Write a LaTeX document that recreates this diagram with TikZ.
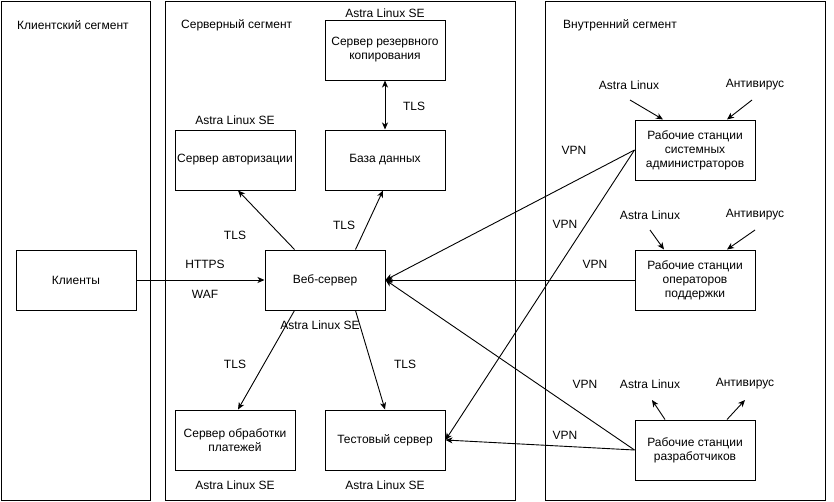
\documentclass[tikz,border=0pt]{standalone}
\usepackage{fontspec}
\setmainfont{Liberation Sans}
\usetikzlibrary{arrows.meta}
\tikzset{
    box/.style = {
        draw,
        shape=rectangle,
        minimum height=60pt,
        minimum width=120pt,
        line width=1pt,
        align=center,
        inner sep=0pt
    },
    segment/.style = {
        draw,
        line width=1pt
    },
    lbl/.style = {
        shape=rectangle,
        inner sep=0pt
    },
    link/.style = {
        draw,
        line width=0.9pt
    },
    >={Stealth[length=7pt,width=6pt,inset=2pt]},
}

\begin{document}
\begin{tikzpicture} [x=1pt, y=-1pt, font=\fontsize{12}{14}\selectfont]
            \useasboundingbox (0,0) rectangle (834,501);

            % segments
            \draw[segment] (1,1) rectangle (150,500);
            \draw[segment] (165,1) rectangle (515,500);
            \draw[segment] (545,1) rectangle (825,500);
            \node[lbl, anchor=west] (segclient) at (17,25) {Клиентский сегмент};
            \node[lbl, anchor=west] (segserver) at (181,25) {Серверный сегмент};
            \node[lbl, anchor=west] (seginner) at (563,25) {Внутренний сегмент};

            % hosts
            \node[box] (clients) at (76,280) {Клиенты};
            \node[box] (web) at (325,280) {Веб-сервер};
            \node[box] (auth) at (235,160) {Сервер авторизации};
            \node[box] (db) at (385,160) {База данных};
            \node[box] (backup) at (385,50) {Сервер резервного\\копирования};
            \node[box] (pay) at (235,440) {Сервер обработки\\платежей};
            \node[box] (test) at (385,440) {Тестовый сервер};
            \node[box] (admins) at (695,150) {Рабочие станции\\системных\\администраторов};
            \node[box] (support) at (695,280) {Рабочие станции\\операторов\\поддержки};
            \node[box] (devs) at (695,450) {Рабочие станции\\разработчиков};

            % os labels
            \node[lbl] (osbackup) at (385,13) {Astra Linux SE};
            \node[lbl] (osauth) at (235,120) {Astra Linux SE};
            \node[lbl] (osweb) at (320,325) {Astra Linux SE};
            \node[lbl] (ospay) at (235,485) {Astra Linux SE};
            \node[lbl] (ostest) at (385,485) {Astra Linux SE};

            % link labels
            \node[lbl] (tlsbackup) at (414,106) {TLS};
            \node[lbl] (tlsauth) at (235,235) {TLS};
            \node[lbl] (tlsdb) at (344,225) {TLS};
            \node[lbl] (tlspay) at (235,364) {TLS};
            \node[lbl] (tlstest) at (405,364) {TLS};
            \node[lbl] (https) at (205,264) {HTTPS};
            \node[lbl] (waf) at (205,294) {WAF};
            \node[lbl] (vpna) at (574,150) {VPN};
            \node[lbl] (vpnb) at (565,224) {VPN};
            \node[lbl] (vpnc) at (595,264) {VPN};
            \node[lbl] (vpnd) at (585,384) {VPN};
            \node[lbl] (vpne) at (565,435) {VPN};

            % workstation software
            \node[lbl] (osadmins) at (629,85) {Astra Linux};
            \node[lbl] (avadmins) at (755,85) {Антивирус};
            \node[lbl] (ossupport) at (650,215) {Astra Linux};
            \node[lbl] (avsupport) at (755,215) {Антивирус};
            \node[lbl] (osdevs) at (650,384) {Astra Linux};
            \node[lbl] (avdevs) at (745,384) {Антивирус};
            \coordinate (osadminsend) at (630,100);
            \coordinate (avadminsend) at (752,100);
            \coordinate (ossupportend) at (650,230);
            \coordinate (avsupportend) at (755,230);
            \coordinate (osdevsend) at (652,400);
            \coordinate (avdevsend) at (745,400);

            % links
            \path[link, ->] (clients.east) -- (web.west);
            \path[link, ->] (web.135) -- ([xshift=3pt]auth.south);
            \path[link, ->] (web.45) -- ([xshift=-2pt]db.south);
            \path[link, <->] (backup.south) -- (db.north);
            \path[link, ->] (web.225) -- ([xshift=3pt]pay.north);
            \path[link, ->] (web.315) -- (test.north);
            \path[link, ->] (admins.west) -- (web.east);
            \path[link, ->] (admins.west) -- (test.east);
            \path[link, ->] (support.west) -- (web.east);
            \path[link, ->] (devs.west) -- (web.east);
            \path[link, ->] (devs.west) -- (test.east);

            \path[link, ->] (osadminsend) -- ([xshift=-32pt]admins.north);
            \path[link, ->] (avadminsend) -- ([xshift=32pt]admins.north);
            \path[link, ->] (ossupportend) -- ([xshift=-31pt]support.north);
            \path[link, ->] (avsupportend) -- ([xshift=32pt]support.north);
            \path[link, ->] ([xshift=-30pt]devs.north) -- (osdevsend);
            \path[link, ->] ([xshift=32pt]devs.north) -- (avdevsend);
        \end{tikzpicture}
\end{document}
